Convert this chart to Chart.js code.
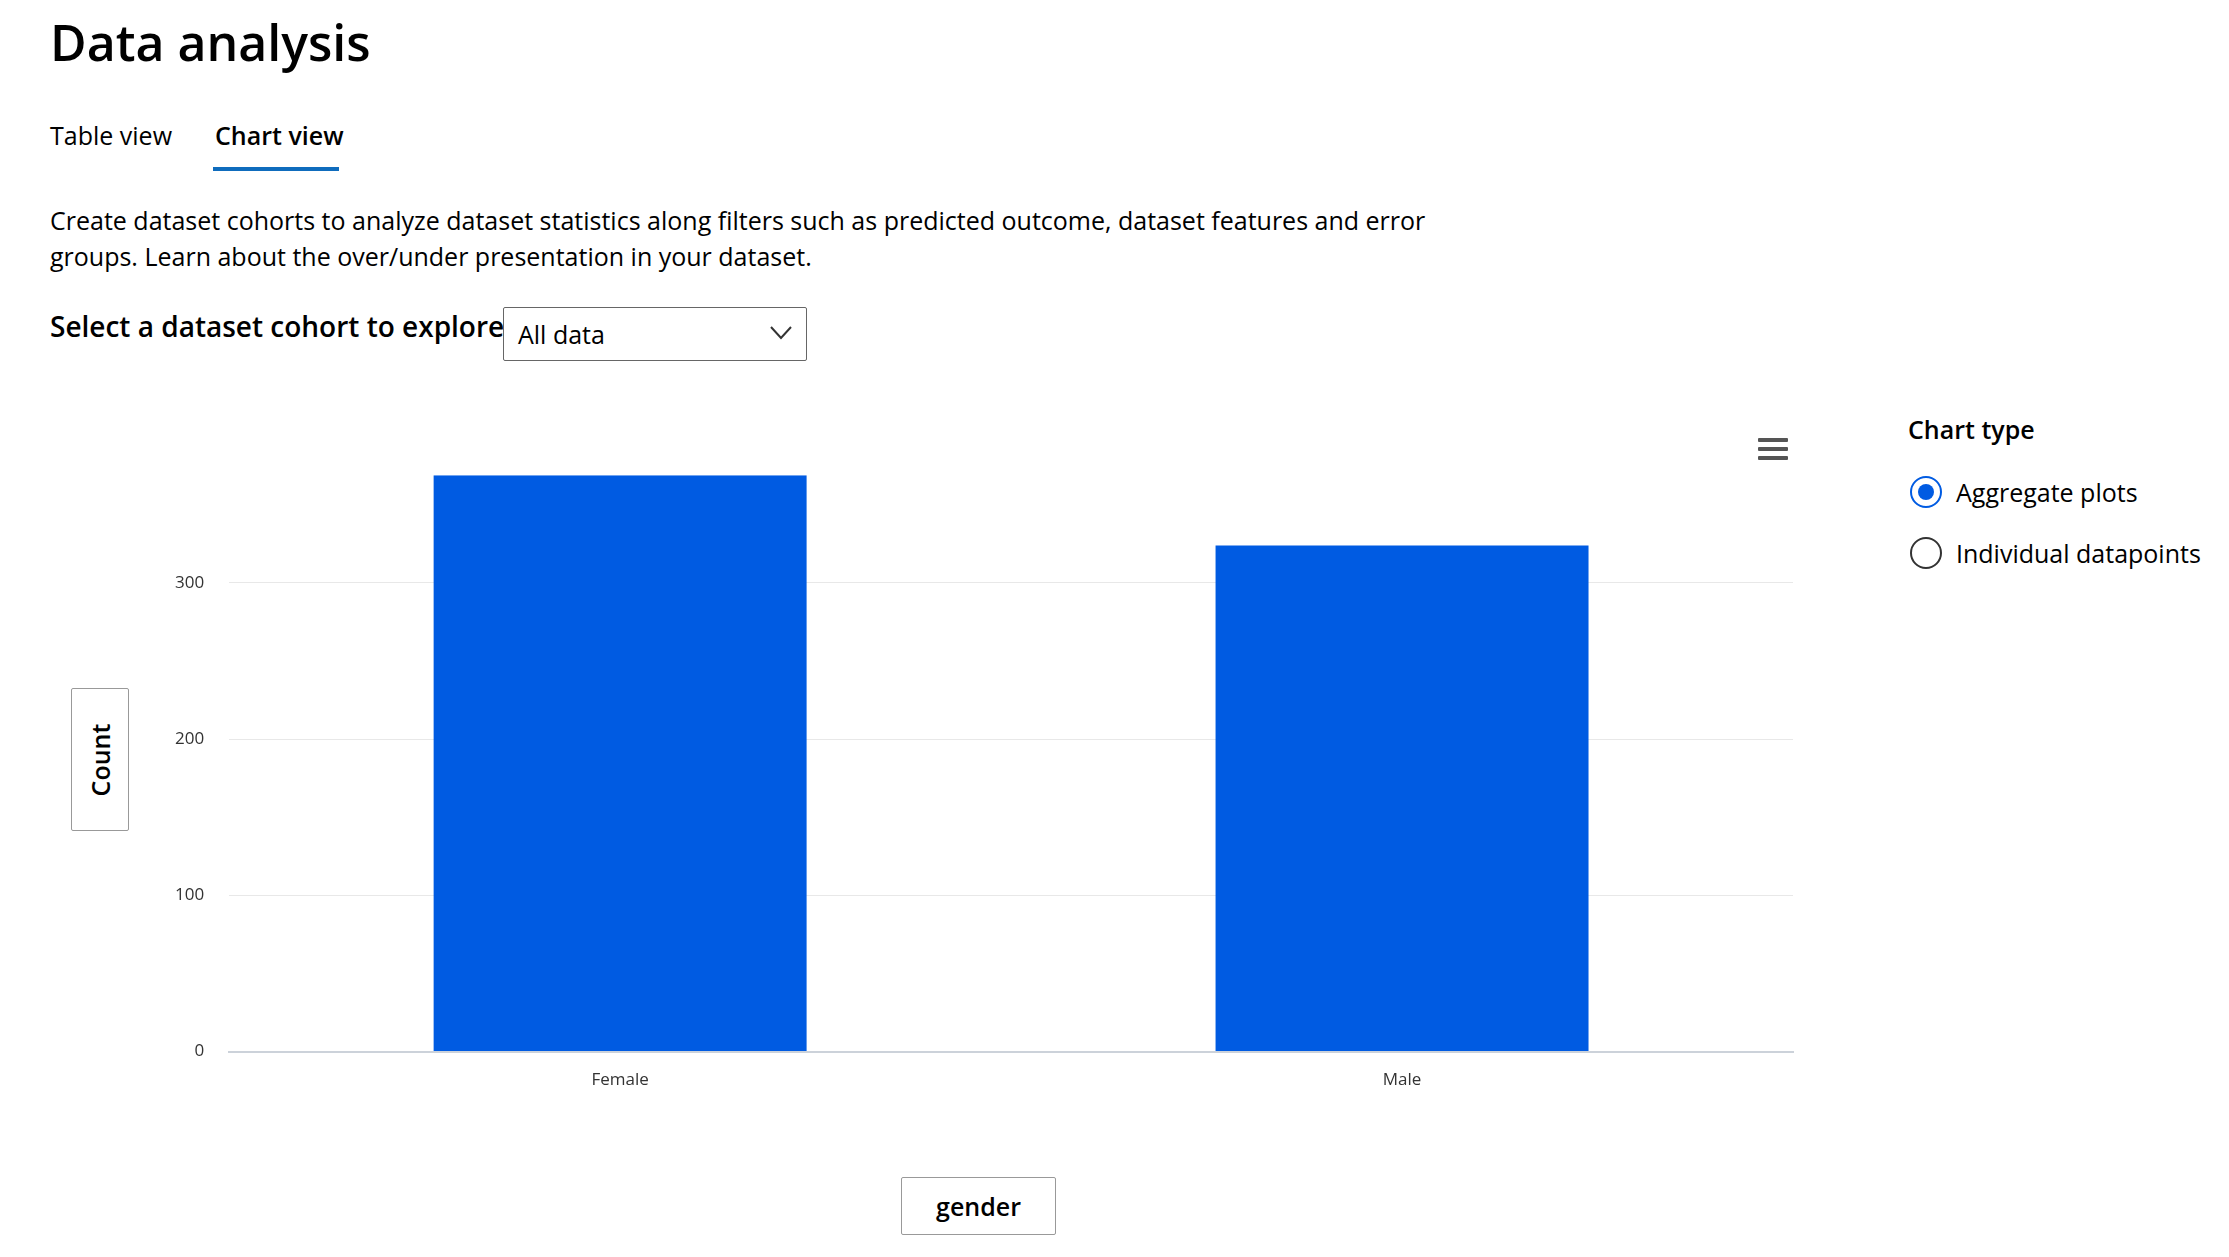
<!DOCTYPE html>
<html>
<head>
<meta charset="utf-8">
<script src="https://cdn.jsdelivr.net/npm/chart.js@4"></script>
<style>
  body { margin: 0; width: 2229px; height: 1257px; background: #fff; font-family: "Open Sans", "Noto Sans", sans-serif; color: #000; position: relative; overflow: hidden; }
  .abs { position: absolute; }
  h1 { position: absolute; left: 50px; top: 8px; margin: 0; font-size: 50px; font-weight: 600; }
  .tab { font-size: 25px; top: 118px; }
  .tab.active { font-weight: 600; }
  .underline { left: 213px; top: 167px; width: 126px; height: 4px; background: #0f6cbd; }
  .desc { left: 50px; top: 202px; font-size: 25px; line-height: 36px; width: 1400px; }
  .sel-label { left: 50px; top: 307px; font-size: 28px; font-weight: 600; }
  .dropdown { left: 503px; top: 307px; width: 304px; height: 54px; border: 1px solid #666; border-radius: 2px; font-size: 25px; box-sizing: border-box; padding: 9px 14px; }
  .box { border: 1px solid #999; border-radius: 2px; font-size: 25px; font-weight: 600; box-sizing: border-box; display: flex; align-items: center; justify-content: center; }
  .radio { width: 32px; height: 32px; border: 2px solid #333; border-radius: 50%; box-sizing: border-box; }
  .radio.on { border-color: #005be2; }
  .radio.on::after { content: ""; position: absolute; left: 6px; top: 6px; width: 16px; height: 16px; border-radius: 50%; background: #005be2; }
  .rlabel { font-size: 25px; }
  .menu span { display: block; width: 30px; height: 4px; background: #555; margin-bottom: 5px; border-radius: 1px; }
</style>
</head>
<body>
<h1>Data analysis</h1>
<div class="abs tab" style="left:50px">Table view</div>
<div class="abs tab active" style="left:215px">Chart view</div>
<div class="abs underline"></div>
<div class="abs desc">Create dataset cohorts to analyze dataset statistics along filters such as predicted outcome, dataset features and error<br>groups. Learn about the over/under presentation in your dataset.</div>
<div class="abs sel-label">Select a dataset cohort to explore</div>
<div class="abs dropdown">All data
  <svg class="abs" style="right:14px;top:18px" width="22" height="14" viewBox="0 0 22 14"><polyline points="1,1 11,12 21,1" fill="none" stroke="#333" stroke-width="2"/></svg>
</div>

<canvas id="chart" class="abs" style="left:150px;top:440px;width:1660px;height:660px"></canvas>

<div class="abs box" style="left:71px;top:688px;width:58px;height:143px"><span style="transform:rotate(-90deg);white-space:nowrap">Count</span></div>
<div class="abs box" style="left:901px;top:1177px;width:155px;height:58px">gender</div>
<div class="abs menu" style="left:1758px;top:438px"><span></span><span></span><span></span></div>

<div class="abs" style="left:1908px;top:412px;font-size:25px;font-weight:600">Chart type</div>
<div class="abs radio on" style="left:1910px;top:476px"></div>
<div class="abs rlabel" style="left:1956px;top:475px">Aggregate plots</div>
<div class="abs radio" style="left:1910px;top:537px"></div>
<div class="abs rlabel" style="left:1956px;top:536px">Individual datapoints</div>

<script>
const categories = ['Female', 'Male'];
const counts = [369, 324];
const yTicks = [0, 100, 200, 300];

new Chart(document.getElementById('chart'), {
  type: 'bar',
  data: {
    labels: categories,
    datasets: [{
      data: counts,
      backgroundColor: '#005be2',
      categoryPercentage: 1,
      barPercentage: 0.477
    }]
  },
  options: {
    responsive: false,
    animation: false,
    layout: { padding: { top: 20, right: 17 } },
    plugins: { legend: { display: false }, tooltip: { enabled: false } },
    scales: {
      x: {
        grid: { display: false },
        border: { color: '#ccd2da', width: 2 },
        ticks: { color: '#333', font: { size: 17, family: 'Open Sans' }, padding: 10 }
      },
      y: {
        min: 0,
        max: counts[0],
        afterBuildTicks: axis => { axis.ticks = yTicks.map(v => ({ value: v })); },
        grid: { color: '#e8e8e8', drawTicks: false },
        border: { display: false },
        ticks: { color: '#333', font: { size: 17, family: 'Open Sans' }, padding: 25 }
      }
    }
  }
});
</script>
</body>
</html>
